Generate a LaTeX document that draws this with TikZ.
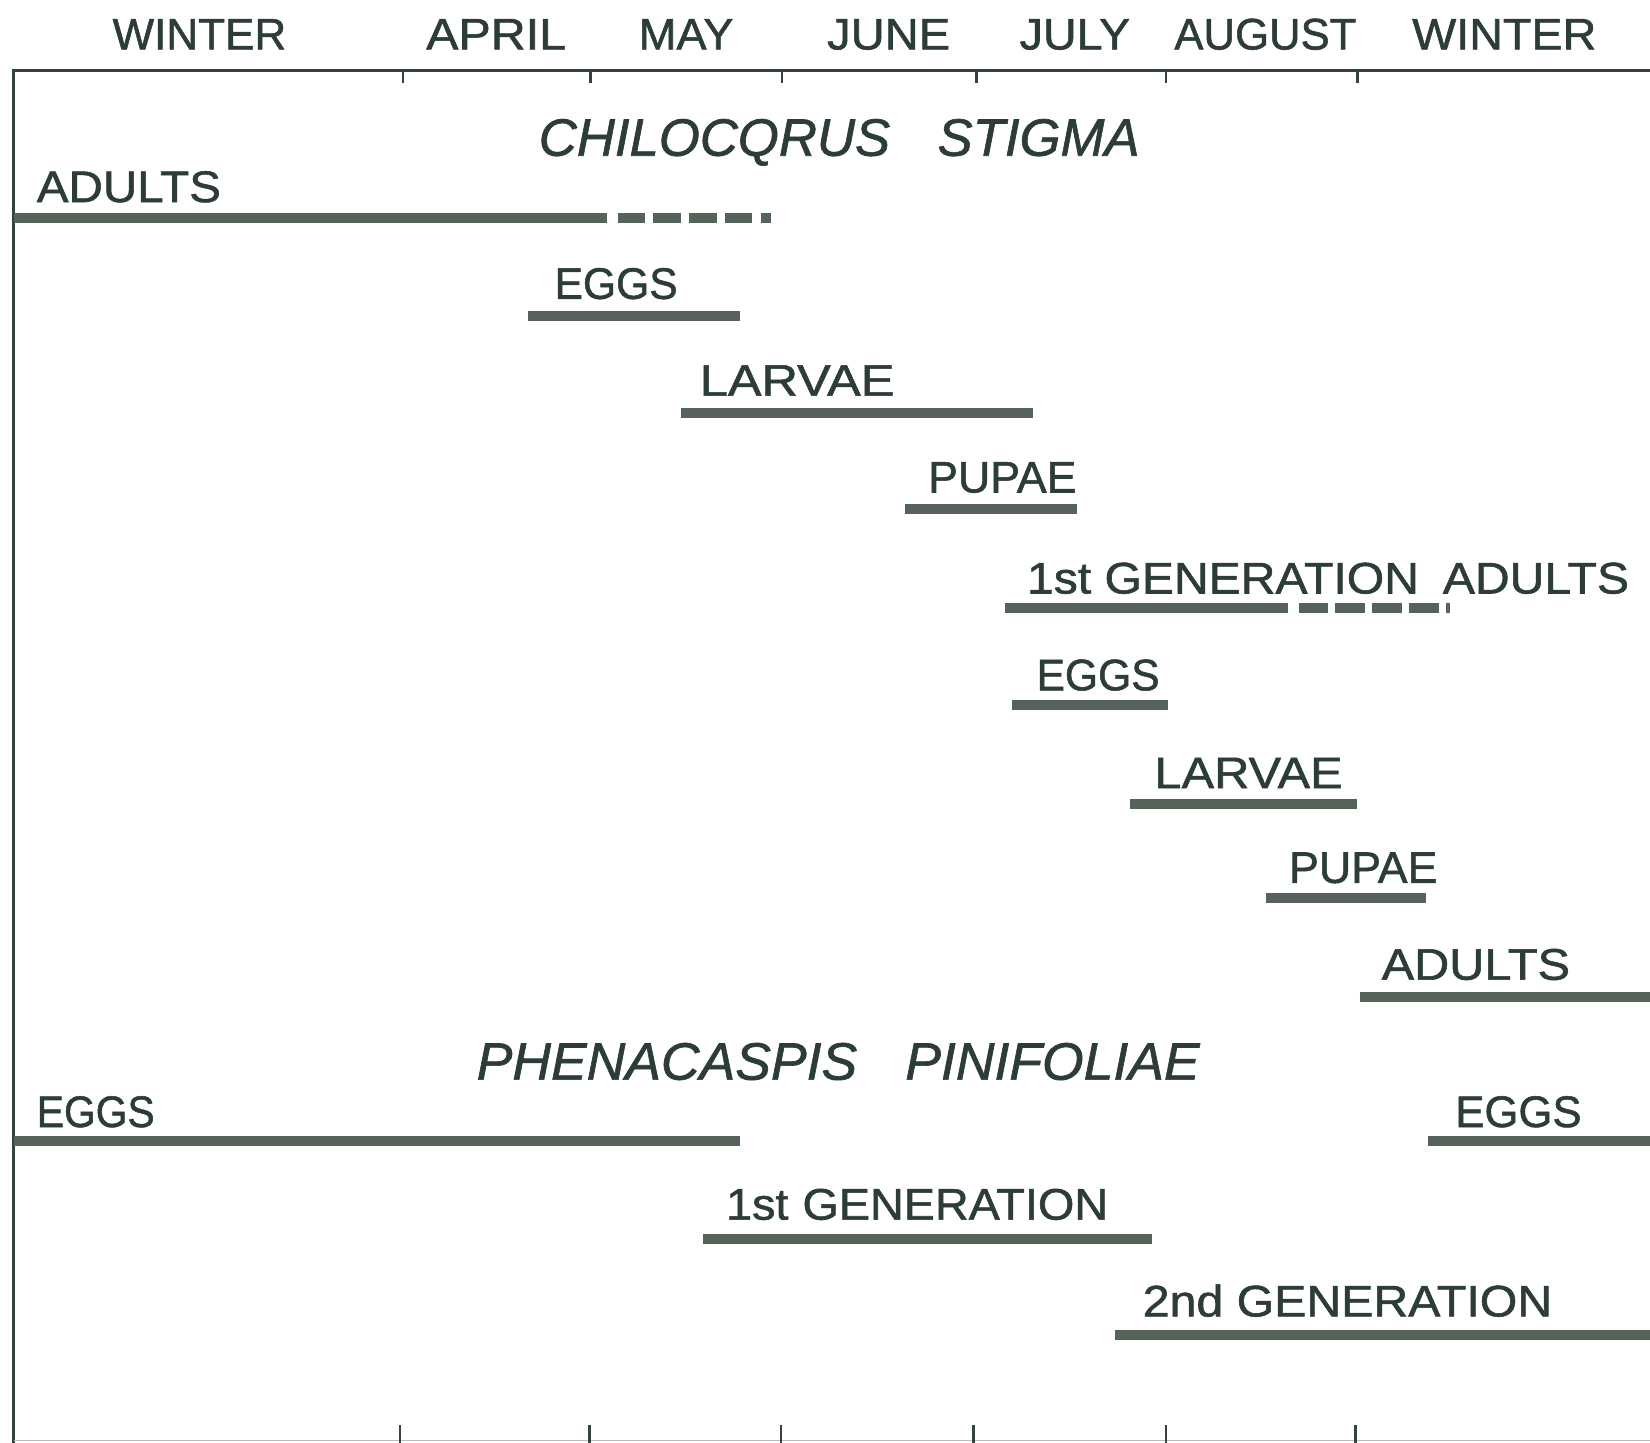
\documentclass[tikz,border=0pt]{standalone}
\usepackage{fontspec}
\setmainfont{Liberation Sans}[FakeBold=1.2,BoldFont=Liberation Sans,ItalicFeatures={FakeBold=1.2}]
\usepackage{graphicx}
\definecolor{inkc}{RGB}{44,60,54}
\definecolor{barc}{RGB}{86,99,91}
\definecolor{framec}{RGB}{52,68,60}
\newcommand{\lab}[5]{%
  \pgfmathsetlengthmacro\labw{#3-#2}%
  \node[lbl] (#1) at (#2,#4) {\resizebox{\labw}{\height}{#5}};}
\begin{document}
\begin{tikzpicture}[x=1pt,y=-1pt,
  lbl/.style={anchor=base west,inner sep=0pt,outer sep=0pt,text=inkc,font=\fontsize{42}{42}\selectfont\bfseries},
  ttl/.style={lbl,font=\fontsize{50}{50}\selectfont\bfseries\itshape},
  bar/.style={draw=barc,line width=9.5pt,line cap=butt},
  frame/.style={draw=framec,line width=2.6pt},
  tick/.style={draw=framec,line width=2.4pt}]
\useasboundingbox (0,0) rectangle (1568,1371);
\fill[white] (0,0) rectangle (1568,1371);
% frame
\coordinate (tl) at (13,67);
\coordinate (tr) at (1568,67);
\coordinate (bl) at (13,1371);
\coordinate (bbl) at (13,1369);
\coordinate (bbr) at (1568,1369);
\draw[frame] (tr) -- (tl) -- (bl);
\draw[draw=framec!35,line width=1.2pt] (bbl) -- (bbr);
% ticks
\foreach \x in {383,561,743,928,1108,1290}{\draw[tick] (\x,67) -- (\x,79);}
\foreach \x in {380,560,742,925,1108,1288}{\draw[tick] (\x,1354) -- (\x,1371);}
% month headers
\lab{m1}{107}{272}{47}{WINTER}
\lab{m2}{405}{538}{47}{APRIL}
\lab{m3}{607}{697}{47}{MAY}
\lab{m4}{786}{903}{47}{JUNE}
\lab{m5}{969}{1074}{47}{JULY}
\lab{m6}{1116}{1289}{47}{AUGUST}
\lab{m7}{1342}{1517}{47}{WINTER}
% titles
\pgfmathsetlengthmacro\labw{1083-512}
\node[ttl] (t1) at (512,148) {\resizebox{\labw}{\height}{CHILOCQRUS\hspace{0.9em}STIGMA}};
\pgfmathsetlengthmacro\labw{1140-453}
\node[ttl] (t2) at (453,1026) {\resizebox{\labw}{\height}{PHENACASPIS\hspace{0.9em}PINIFOLIAE}};
% labels
\lab{a0}{35}{210}{192}{ADULTS}
\lab{e1}{527}{644}{284}{EGGS}
\lab{l1}{665}{850}{376}{LARVAE}
\lab{p1}{882}{1023}{468}{PUPAE}
\lab{g1}{976}{1548}{564}{1st GENERATION\hspace{0.5em}ADULTS}
\lab{e2}{985}{1102}{656}{EGGS}
\lab{l2}{1097}{1276}{749}{LARVAE}
\lab{p2}{1225}{1366}{839}{PUPAE}
\lab{a2}{1313}{1492}{931}{ADULTS}
\lab{pe1}{35}{147}{1071}{EGGS}
\lab{pe2}{1383}{1503}{1071}{EGGS}
\lab{pg1}{690}{1053}{1159}{1st\hspace{0.3em}GENERATION}
\lab{pg2}{1086}{1475}{1251}{2nd GENERATION}
% bars
\draw[bar] (13,207) -- (577,207);
\draw[bar,dash pattern=on 26pt off 8pt] (587,207) -- (733,207);
\draw[bar] (502,300) -- (703,300);
\draw[bar] (647,392) -- (982,392);
\draw[bar] (860,484) -- (1023,484);
\draw[bar] (955,578) -- (1224,578);
\draw[bar,dash pattern=on 28pt off 7pt] (1234,578) -- (1378,578);
\draw[bar] (962,670) -- (1110,670);
\draw[bar] (1074,764) -- (1290,764);
\draw[bar] (1203,853) -- (1355,853);
\draw[bar] (1292,947) -- (1568,947);
\draw[bar] (13,1084) -- (703,1084);
\draw[bar] (1357,1084) -- (1568,1084);
\draw[bar] (668,1177) -- (1095,1177);
\draw[bar] (1060,1269) -- (1568,1269);
\end{tikzpicture}
\end{document}
